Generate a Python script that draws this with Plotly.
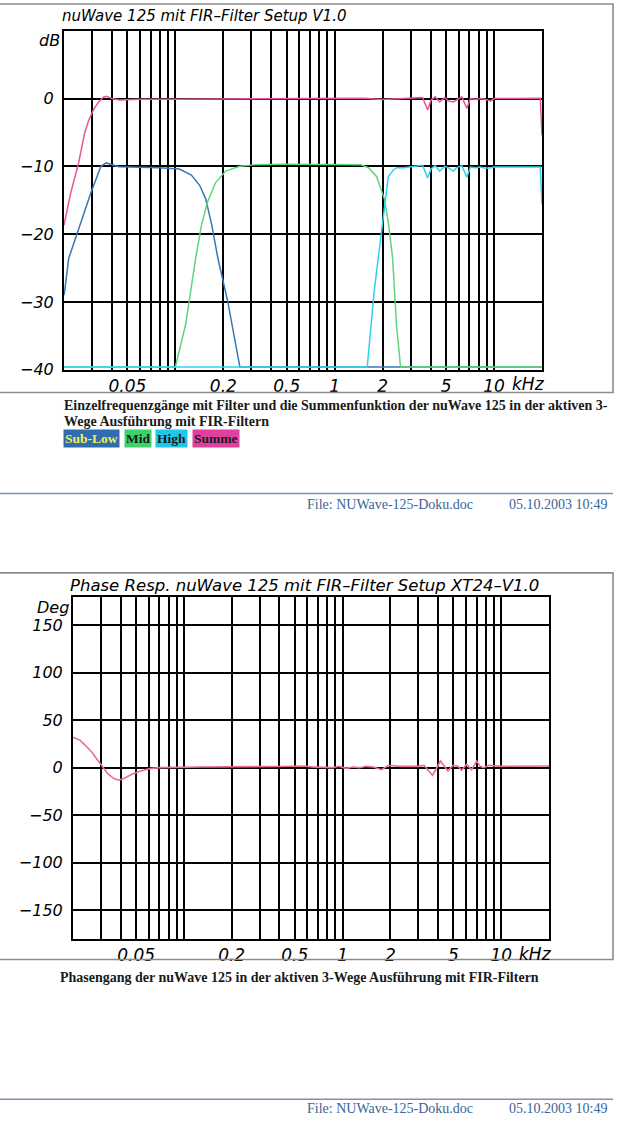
import plotly.graph_objects as go

W, H = 620, 1132

# ---------------- data (frequency in kHz) ----------------
grid_f = [0.03, 0.04, 0.05, 0.06, 0.07, 0.08, 0.09, 0.1,
          0.2, 0.3, 0.4, 0.5, 0.6, 0.7, 0.8, 0.9, 1.0,
          2, 3, 4, 5, 6, 7, 8, 9, 10]
x_labels = {0.05: "0.05", 0.2: "0.2", 0.5: "0.5", 1.0: "1", 2: "2", 5: "5", 10: "10"}

db_ticks = [0, -10, -20, -30, -40]
db_text = ["0", "−10", "−20", "−30", "−40"]
deg_ticks = [150, 100, 50, 0, -50, -100, -150]
deg_text = ["150", "100", "50", "0", "−50", "−100", "−150"]

sub_low_f = [0.02, 0.0202, 0.0214, 0.0248, 0.0295, 0.0341, 0.0368, 0.0443, 0.06, 0.079,
             0.106, 0.126, 0.142, 0.155, 0.169, 0.185, 0.213, 0.254, 0.5, 1.0, 2.0, 5.0, 10.0, 20.0]
sub_low_db = [-29.0, -28.4, -23.6, -19.2, -13.9, -10.0, -9.5, -10.05, -10.1, -10.2,
              -10.4, -11.3, -12.8, -14.8, -18.6, -23.6, -29.9, -39.6, -39.6, -39.6, -39.6, -39.6, -39.6, -39.6]

mid_f = [0.02, 0.1, 0.116, 0.134, 0.146, 0.159, 0.179, 0.207, 0.254, 0.32, 0.5, 1.0,
         1.45, 1.63, 1.83, 2.05, 2.18, 2.31, 2.44, 2.59, 5.0, 10.0, 20.0]
mid_db = [-39.6, -39.6, -33.3, -23.6, -18.6, -15.3, -12.4, -10.7, -10.0, -9.75, -9.7, -9.7,
          -9.75, -10.2, -11.5, -14.8, -18.6, -23.6, -33.3, -39.6, -39.6, -39.6, -39.6]

high_f = [0.02, 0.1, 1.0, 1.6, 1.77, 1.88, 2.04, 2.17, 2.34, 2.46, 2.71, 3.0, 3.39, 3.56,
          3.83, 4.02, 4.27, 4.56, 4.91, 5.15, 5.55, 5.83, 6.28, 6.76, 7.1, 7.65, 8.23, 8.85,
          9.53, 10.0, 13.8, 19.5, 20.0]
high_db = [-39.6, -39.6, -39.6, -39.6, -28.4, -23.6, -16.8, -11.5, -10.5, -10.2, -10.2, -10.1, -9.95, -9.85,
           -11.7, -10.4, -9.9, -10.7, -10.0, -10.2, -10.7, -10.2, -9.9, -11.6, -10.1, -10.2, -10.1, -10.3,
           -10.2, -10.1, -10.1, -10.1, -15.6]

summe_f = [0.02, 0.022, 0.0247, 0.027, 0.0286, 0.0307, 0.033, 0.0353, 0.037, 0.0405, 0.0445,
           0.05, 0.06, 0.1, 0.5, 1.0, 1.5, 2.0, 3.0, 3.4, 3.56, 3.83, 4.02, 4.27, 4.56, 4.91,
           5.15, 5.55, 5.83, 6.28, 6.76, 7.1, 7.65, 8.23, 8.85, 9.53, 10.0, 15.0, 19.5, 20.0]
summe_db = [-18.7, -14.0, -9.5, -5.0, -3.2, -1.6, -0.5, 0.2, 0.34, -0.05, -0.2,
            -0.15, -0.1, -0.1, 0.0, 0.05, 0.05, -0.15, 0.1, 0.15, 0.15, -1.7, -0.25, 0.25, -0.5, 0.15,
            -0.35, -0.5, -0.15, 0.25, -1.45, 0.0, -0.15, 0.0, -0.15, -0.35, 0.0, 0.05, 0.05, -5.4]

phase_f = [0.02, 0.0221, 0.0241, 0.0263, 0.0287, 0.0309, 0.0331, 0.0362, 0.0388, 0.0418, 0.047,
           0.0527, 0.061, 0.0705, 0.126, 0.4, 0.57, 0.64, 0.86, 0.95, 1.05, 1.16, 1.28, 1.41, 1.56,
           1.76, 1.95, 2.31, 3.03, 3.26, 3.69, 4.14, 4.39, 4.61, 4.97, 5.34, 5.62, 6.05, 6.51, 7.0,
           7.37, 7.75, 8.35, 10.1, 20.0]
phase_deg = [32.0, 29.0, 23.0, 16.3, 7.6, 0.0, -6.3, -11.5, -13.2, -11.5, -7.0,
             -3.8, -1.0, 0.0, 0.7, 1.2, 1.8, 0.8, 0.0, 1.4, -0.7, 0.7, 0.0, 1.4, 0.7,
             -2.1, 2.5, 1.4, 1.4, 2.5, -8.0, 7.0, 0.7, -3.5, 2.5, 1.4, -2.8, 3.5, -2.1, 7.0,
             1.4, 0.0, 2.5, 1.4, 1.7]

# ---------------- styling ----------------
C_SUB = "#3a78b4"
C_MID = "#5ed67a"
C_HIGH = "#2fd2ee"
C_SUM = "#e8559a"
C_PHASE = "#ec6f8c"

def px_x(v):
    return v / W

def px_y(v):
    return 1 - v / H

fig = go.Figure()
for f, v, c in [(sub_low_f, sub_low_db, C_SUB), (mid_f, mid_db, C_MID),
                (high_f, high_db, C_HIGH), (summe_f, summe_db, C_SUM)]:
    fig.add_trace(go.Scatter(x=f, y=v, mode="lines", line=dict(color=c, width=1.5),
                             xaxis="x", yaxis="y", hoverinfo="skip"))
fig.add_trace(go.Scatter(x=phase_f, y=phase_deg, mode="lines", line=dict(color=C_PHASE, width=1.6),
                         xaxis="x2", yaxis="y2", hoverinfo="skip"))

tick_font_x = dict(family="DejaVu Sans", size=17, color="black", style="italic")
tick_font_y = dict(family="DejaVu Sans", size=16, color="black", style="italic")
ticktext_x = [x_labels.get(v, "") for v in grid_f]

common_x = dict(type="log", range=[-1.69897, 1.30103], tickvals=grid_f, ticktext=ticktext_x,
                showgrid=True, gridcolor="black", gridwidth=1.6, showline=True, mirror=True,
                linecolor="black", linewidth=2, ticks="", tickfont=tick_font_x, zeroline=False,
                fixedrange=True)
common_y = dict(showgrid=True, gridcolor="black", gridwidth=1.6, showline=True, mirror=True,
                linecolor="black", linewidth=2, ticks="", tickfont=tick_font_y, zeroline=False,
                ticklabelstandoff=5, fixedrange=True)

fig.update_layout(
    width=W, height=H, margin=dict(l=0, r=0, t=0, b=0),
    paper_bgcolor="white", plot_bgcolor="white", showlegend=False,
    xaxis=dict(domain=[px_x(64), px_x(542)], anchor="y", **common_x),
    yaxis=dict(domain=[px_y(373), px_y(31)], anchor="x", range=[-40, 10],
               tickvals=db_ticks, ticktext=db_text, **common_y),
    xaxis2=dict(domain=[px_x(73), px_x(549)], anchor="y2", **common_x),
    yaxis2=dict(domain=[px_y(947), px_y(602)], anchor="x2", range=[-180, 180],
                tickvals=deg_ticks, ticktext=deg_text, **common_y),
)

ann = []
title_font = dict(family="DejaVu Sans", color="black", style="italic")
ann.append(dict(text="nuWave 125 mit FIR–Filter Setup V1.0", x=px_x(60), y=px_y(16),
                xanchor="left", yanchor="middle", font=dict(size=15, **title_font)))
ann.append(dict(text="Phase Resp. nuWave 125 mit FIR–Filter Setup XT24–V1.0", x=px_x(68), y=px_y(591),
                xanchor="left", yanchor="middle", font=dict(size=16.5, **title_font)))
ann.append(dict(text="dB", x=px_x(62), y=px_y(41), xanchor="right", yanchor="middle",
                font=tick_font_y))
ann.append(dict(text="Deg", x=px_x(71), y=px_y(613), xanchor="right", yanchor="middle",
                font=tick_font_y))
ann.append(dict(text="kHz", x=px_x(510), y=px_y(387), xanchor="left", yanchor="middle",
                font=tick_font_x))
ann.append(dict(text="kHz", x=px_x(517), y=px_y(963), xanchor="left", yanchor="middle",
                font=tick_font_x))

cap_font = dict(family="Liberation Serif", size=14, color="#1a1a1a", weight="bold")
ann.append(dict(text="Einzelfrequenzgänge mit Filter und die Summenfunktion der nuWave 125 in der aktiven 3-",
                x=px_x(62), y=px_y(409), xanchor="left", yanchor="middle", font=cap_font))
ann.append(dict(text="Wege Ausführung mit FIR-Filtern", x=px_x(62), y=px_y(425),
                xanchor="left", yanchor="middle", font=cap_font))
ann.append(dict(text="Phasengang der nuWave 125 in der aktiven 3-Wege Ausführung mit FIR-Filtern",
                x=px_x(299), y=px_y(986), xanchor="center", yanchor="middle", font=cap_font))

legend_items = [("Sub-Low", 63, "#2f6db0", "#f2f050"), ("Mid", 124, "#3ed36a", "#1a1a1a"),
                ("High", 155, "#1ec8e8", "#1a1a1a"), ("Summe", 192, "#e040a0", "#1a1a1a")]
for name, x0, bg, fc in legend_items:
    ann.append(dict(text=name, x=px_x(x0), y=px_y(442), xanchor="left", yanchor="middle",
                    bgcolor=bg, borderpad=1,
                    font=dict(family="Liberation Serif", size=13.5, color=fc, weight="bold")))

foot_font = dict(family="Liberation Serif", size=14, color="#3b6496")
for ly in (509, 1118):
    ann.append(dict(text="File: NUWave-125-Doku.doc", x=px_x(305), y=px_y(ly), xanchor="left",
                    yanchor="middle", font=foot_font))
    ann.append(dict(text="05.10.2003 10:49", x=px_x(609), y=px_y(ly), xanchor="right",
                    yanchor="middle", font=foot_font))

for a in ann:
    a.update(xref="paper", yref="paper", showarrow=False)
fig.update_layout(annotations=ann)

shapes = []
for top, bot in ((4, 396), (578, 968)):
    shapes.append(dict(type="rect", xref="paper", yref="paper", x0=px_x(-5), x1=px_x(613),
                       y0=px_y(bot), y1=px_y(top), line=dict(color="#8c8c8c", width=1.6)))
for ly in (498, 1109):
    shapes.append(dict(type="line", xref="paper", yref="paper", x0=0, x1=px_x(613),
                       y0=px_y(ly), y1=px_y(ly), line=dict(color="#7d93b0", width=1.5)))
fig.update_layout(shapes=shapes)

post = ("var h=document.documentElement,b=document.body;"
        "h.style.margin='0';h.style.padding='0';"
        "b.style.margin='0';b.style.padding='0';")
fig.write_html("out.html", config={"displayModeBar": False}, post_script=post)
